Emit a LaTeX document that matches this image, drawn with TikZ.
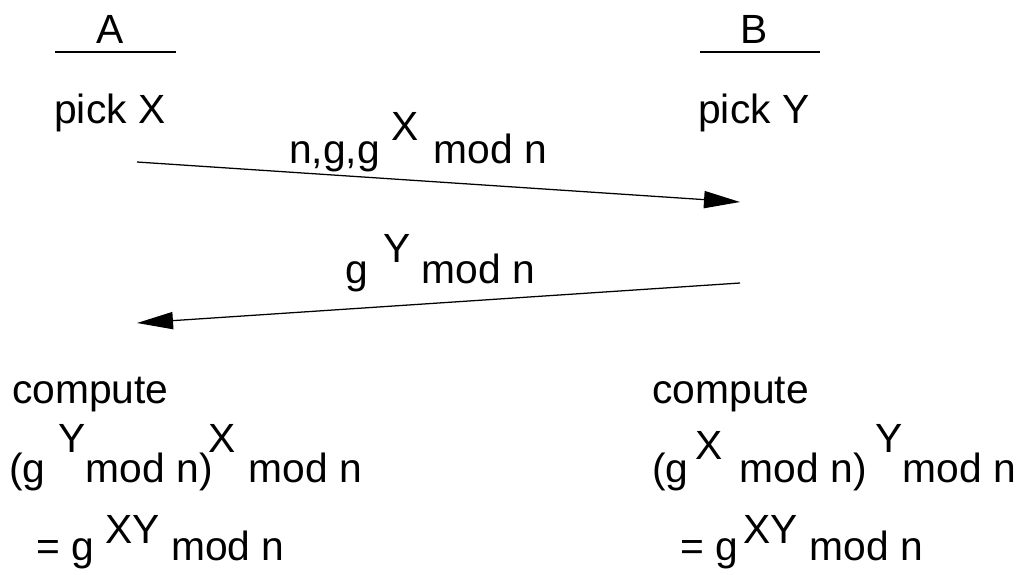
\documentclass[tikz,border=0pt]{standalone}
\usepackage{fontspec}
\setmainfont{Liberation Sans}
\usetikzlibrary{arrows.meta, positioning}
\newcommand{\up}[2]{\raisebox{#1}{#2}}
\tikzstyle{txt} = [
    inner sep=0pt,
    anchor=base west,
    font=\fontsize{29}{34}\selectfont
]
\tikzstyle{rule} = [line width=0.9pt]
\tikzstyle{msg} = [
    line width=0.9pt,
    -{Triangle[length=0.9cm, width=0.43cm]}
]
\begin{document}
\begin{tikzpicture}[x=0.025cm, y=-0.025cm]
    \useasboundingbox (0,0) rectangle (1016,574);

    % Parties
    \node (A) [txt, anchor=base] at (110,43) {A};
    \node (B) [txt, anchor=base] at (754,43) {B};
    \draw [rule] (55,52) -- (176,52);
    \draw [rule] (700,52) -- (820,52);
    \node (pickX) [txt] at (54,123) {pick X};
    \node (pickY) [txt] at (698,123) {pick Y};

    % Messages
    \coordinate (a1) at (137,162);
    \coordinate (b1) at (740,202);
    \coordinate (b2) at (740,283);
    \coordinate (a2) at (137,323);
    \draw [msg] (a1) -- (b1);
    \draw [msg] (b2) -- (a2);
    \node (m1) [txt] at (289,163) {n,g,g \up{5.75mm}{X}\hspace{1mm} mod n};
    \node (m2) [txt] at (345,283) {g\hspace{1mm} \up{5.25mm}{Y} mod n};

    % Results
    \node (cA) [txt] at (12,403) {compute};
    \node (rA) [txt] at (9,482) {(g\hspace{3.25mm}\up{7.5mm}{Y}mod n)\hspace{-1mm}\up{7.5mm}{X}\hspace{3.25mm}mod n};
    \node (eA) [txt] at (36,560) {= g \up{4.25mm}{XY} mod n};
    \node (cB) [txt] at (652,403) {compute};
    \node (rB) [txt] at (652,482) {(g\hspace{1.75mm}\up{5.75mm}{X}\hspace{4.25mm}mod n)\hspace{2.25mm}\up{7.5mm}{Y}mod n};
    \node (eB) [txt] at (680,560) {= g\hspace{1.4mm}\up{4.25mm}{XY} mod n};

\end{tikzpicture}
\end{document}
